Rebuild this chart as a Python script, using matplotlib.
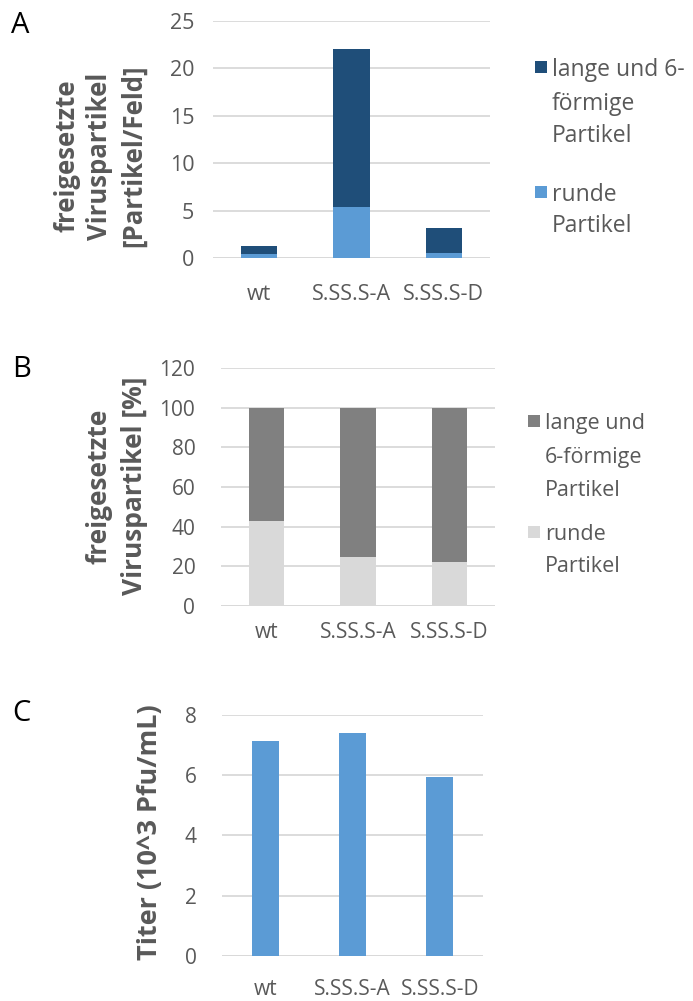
import matplotlib
matplotlib.use("Agg")
import matplotlib.pyplot as plt
from matplotlib.patches import Rectangle

categories = ["wt", "S.SS.S-A", "S.SS.S-D"]
# Panel A: particles per field
a_round = [0.4, 5.4, 0.6]
a_long = [0.9, 16.6, 2.55]
# Panel B: percent
b_round = [43, 24.5, 22]
b_long = [57, 75.5, 78]
# Panel C: titer
c_titer = [7.13, 7.40, 5.95]

a_ticks = [0, 5, 10, 15, 20, 25]
b_ticks = [0, 20, 40, 60, 80, 100, 120]
c_ticks = [0, 2, 4, 6, 8]

FONT = "Open Sans"
plt.rcParams["font.family"] = [FONT, "DejaVu Sans"]
TXT = "#595959"
GRID = "#D9D9D9"

W, H = 693, 1001
fig = plt.figure(figsize=(W / 100, H / 100), dpi=100)


def px_axes(x0, y0, x1, y1):
    return fig.add_axes([x0 / W, 1 - y1 / H, (x1 - x0) / W, (y1 - y0) / H])


def style(ax, ticks, fs, ypad, xpad):
    ax.set_ylim(ticks[0], ticks[-1])
    ax.set_yticks(ticks)
    ax.set_xlim(-0.5, 2.5)
    ax.set_xticks(range(len(categories)))
    ax.set_xticklabels(categories)
    for s in ax.spines.values():
        s.set_visible(False)
    ax.yaxis.grid(True, color=GRID, linewidth=1.3)
    ax.set_axisbelow(True)
    ax.tick_params(length=0, labelsize=fs, labelcolor=TXT)
    ax.tick_params(axis="y", pad=ypad)
    ax.tick_params(axis="x", pad=xpad)
    ax.axhline(ticks[0], color=GRID, linewidth=1.3, zorder=0.5)


def fig_text(x, y, s, **kw):
    return fig.text(x / W, 1 - y / H, s, **kw)


def legend(x_sq, entries, color_list, fs, sq=12):
    for (lines, ys), col in zip(entries, color_list):
        fig.patches.append(Rectangle((x_sq / W, 1 - (ys[0] + sq / 2) / H), sq / W, sq / H,
                                     transform=fig.transFigure, facecolor=col, edgecolor="none"))
        for line, y in zip(lines, ys):
            fig_text(x_sq + sq + 5, y, line, fontsize=fs, color=TXT, ha="left", va="center_baseline")


x = range(len(categories))

# ---- Panel A ----
axA = px_axes(213, 20.7, 490, 258.3)
axA.bar(x, a_round, width=0.39, color="#5B9BD5", zorder=2)
axA.bar(x, a_long, width=0.39, bottom=a_round, color="#1F4E79", zorder=2)
style(axA, a_ticks, fs=15.5, ypad=13.5, xpad=18.5)
fig_text(100, 156, "freigesetzte\nViruspartikel\n[Partikel/Feld]", rotation=90, ha="center", va="center",
         fontsize=18.5, fontweight="bold", color=TXT, linespacing=1.3, multialignment="center")
legend(535, [(["lange und 6-", "förmige", "Partikel"], [67, 101, 133]),
             (["runde", "Partikel"], [192, 223])], ["#1F4E79", "#5B9BD5"], fs=16.5)
fig_text(11, 11, "A", fontsize=21, ha="left", va="top")

# ---- Panel B ----
axB = px_axes(221, 368.3, 495, 605.7)
axB.bar(x, b_round, width=0.39, color="#D9D9D9", zorder=2)
axB.bar(x, b_long, width=0.39, bottom=b_round, color="#808080", zorder=2)
style(axB, b_ticks, fs=15, ypad=18.5, xpad=11.5)
fig_text(117, 486, "freigesetzte\nViruspartikel [%]", rotation=90, ha="center", va="center",
         fontsize=19, fontweight="bold", color=TXT, linespacing=1.4, multialignment="center")
legend(528, [(["lange und", "6-förmige", "Partikel"], [421, 455, 488]),
             (["runde", "Partikel"], [532, 564])], ["#808080", "#D9D9D9"], fs=15.5)
fig_text(12, 355, "B", fontsize=21, ha="left", va="top")

# ---- Panel C ----
axC = px_axes(221.7, 715, 483.3, 955.7)
axC.bar(x, c_titer, width=0.31, color="#5B9BD5", zorder=2)
style(axC, c_ticks, fs=15, ypad=18, xpad=16.5)
fig_text(150, 832, "Titer (10^3 Pfu/mL)", rotation=90, ha="center", va="center",
         fontsize=19.5, fontweight="bold", color=TXT)
fig_text(12, 699, "C", fontsize=21, ha="left", va="top")

fig.savefig("out.png", dpi=100, facecolor="white")
